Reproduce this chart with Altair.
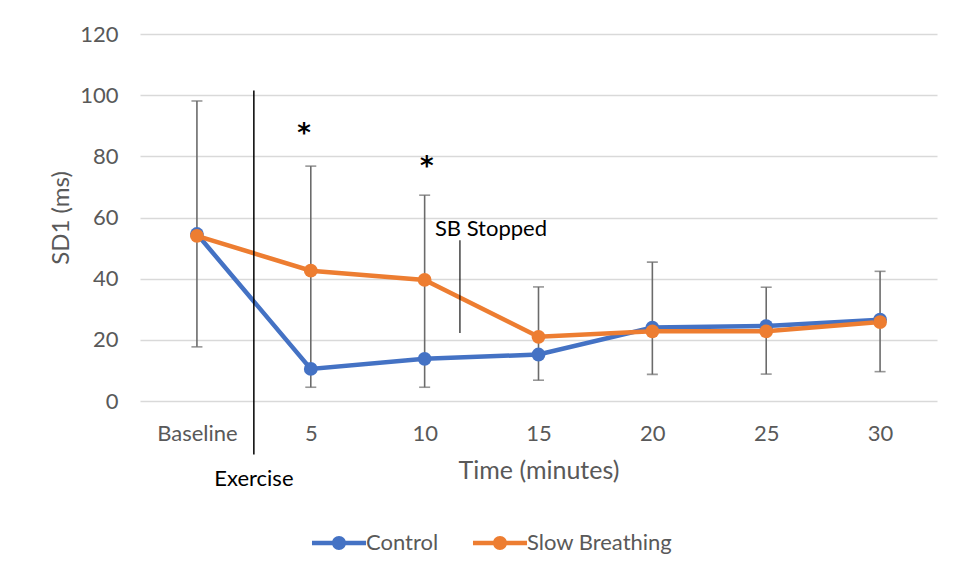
import altair as alt
import pandas as pd

# ---- data ----
time_labels = ["Baseline", "5", "10", "15", "20", "25", "30"]
control = [54.6, 10.5, 13.8, 15.2, 24.0, 24.5, 26.6]
slow_breathing = [54.0, 42.6, 39.6, 21.0, 22.8, 22.8, 25.8]
err_low = [17.7, 4.5, 4.5, 6.8, 8.7, 8.8, 9.6]
err_high = [98.1, 76.8, 67.3, 37.3, 45.4, 37.2, 42.4]

# annotations (data coordinates: x = category index, y = SD1)
exercise_x = [0.5]
exercise_y = [101.5]
exercise_y2 = [-17.5]
exercise_text_y = [-25.5]
sb_line_x = [2.31]
sb_line_y = [52.6]
sb_line_y2 = [22.2]
sb_text_x = [2.09]
sb_text_y = [56.4]
star_x = [0.94, 2.02]
star_y = [87.2, 76.5]

FONT = "Lato"
GRAY = "#595959"

idx = list(range(len(time_labels)))
df = pd.DataFrame({
    "idx": idx * 2,
    "series": ["Control"] * len(idx) + ["Slow Breathing"] * len(idx),
    "value": control + slow_breathing,
})
err = pd.DataFrame({"idx": idx, "low": err_low, "high": err_high})

label_expr = "[" + ",".join(f"'{t}'" for t in time_labels) + "][datum.value]"

xscale = alt.Scale(domain=[-0.5, len(idx) - 0.5], nice=False, zero=False)
yscale = alt.Scale(domain=[0, 120], nice=False)

x_axis = alt.Axis(values=idx, labelExpr=label_expr, title="Time (minutes)",
                  grid=False, domain=False, ticks=False, labelPadding=22, titlePadding=14,
                  titleFontSize=25)
y_axis = alt.Axis(values=[0, 20, 40, 60, 80, 100, 120], title="SD1 (ms)",
                  grid=True, domain=False, ticks=False, labelPadding=22, titlePadding=6,
                  titleFontSize=24)

X = alt.X("idx:Q", scale=xscale, axis=x_axis)

base_err = alt.Chart(err)
err_rule = base_err.mark_rule(color="#6b6b6b", strokeWidth=1.6).encode(
    x=X, y=alt.Y("low:Q", scale=yscale, axis=y_axis), y2="high:Q")
cap_low = base_err.mark_tick(color="#6b6b6b", thickness=1.6, size=11, orient="horizontal").encode(
    x=X, y=alt.Y("low:Q", scale=yscale, axis=y_axis))
cap_high = base_err.mark_tick(color="#6b6b6b", thickness=1.6, size=11, orient="horizontal").encode(
    x=X, y=alt.Y("high:Q", scale=yscale, axis=y_axis))

# line-with-dot legend glyph (unit: circle radius = 1)
legend_path = ("M-3.86,-0.33 H3.86 V0.33 H-3.86 Z "
               "M1,0 A1,1 0 1 1 -1,0 A1,1 0 1 1 1,0 Z")
color = alt.Color("series:N",
                  scale=alt.Scale(domain=["Control", "Slow Breathing"],
                                  range=["#4472C4", "#ED7D31"]),
                  legend=alt.Legend(title=None, orient="none", direction="horizontal",
                                    legendX=168, legendY=498,
                                    symbolType=legend_path, symbolSize=196,
                                    symbolStrokeWidth=0, symbolOffset=20,
                                    labelOffset=16, columnPadding=30,
                                    padding=0))

lines = alt.Chart(df).mark_line(strokeWidth=4.5).encode(
    x=X, y=alt.Y("value:Q", scale=yscale, axis=y_axis), color=color)
points = alt.Chart(df).mark_point(filled=True, size=190, opacity=1).encode(
    x=X, y=alt.Y("value:Q", scale=yscale, axis=y_axis), color=color)

ex_df = pd.DataFrame({"x": exercise_x, "y": exercise_y, "y2": exercise_y2,
                      "ty": exercise_text_y, "t": ["Exercise"]})
ex_line = alt.Chart(ex_df).mark_rule(color="black", strokeWidth=1.5).encode(
    x=alt.X("x:Q", scale=xscale, axis=x_axis), y=alt.Y("y:Q", scale=yscale, axis=y_axis), y2="y2:Q")
ex_text = alt.Chart(ex_df).mark_text(fontSize=22, font=FONT, color="black",
                                     align="center", baseline="middle").encode(
    x=alt.X("x:Q", scale=xscale, axis=x_axis), y=alt.Y("ty:Q", scale=yscale, axis=y_axis), text="t:N")

sb_df = pd.DataFrame({"x": sb_line_x, "y": sb_line_y, "y2": sb_line_y2,
                      "tx": sb_text_x, "ty": sb_text_y, "t": ["SB Stopped"]})
sb_line = alt.Chart(sb_df).mark_rule(color="black", strokeWidth=1.1).encode(
    x=alt.X("x:Q", scale=xscale, axis=x_axis), y=alt.Y("y:Q", scale=yscale, axis=y_axis), y2="y2:Q")
sb_text = alt.Chart(sb_df).mark_text(fontSize=22, font=FONT, color="black",
                                     align="left", baseline="middle").encode(
    x=alt.X("tx:Q", scale=xscale, axis=x_axis), y=alt.Y("ty:Q", scale=yscale, axis=y_axis), text="t:N")

star_df = pd.DataFrame({"x": star_x, "y": star_y, "t": ["*"] * len(star_x)})
stars = alt.Chart(star_df).mark_text(fontSize=26, font="DejaVu Sans", fontWeight="bold",
                                     color="black", align="center", baseline="middle").encode(
    x=alt.X("x:Q", scale=xscale, axis=x_axis), y=alt.Y("y:Q", scale=yscale, axis=y_axis), text="t:N")

chart = alt.layer(err_rule, cap_low, cap_high, lines, points, ex_line, ex_text,
                  sb_line, sb_text, stars).properties(
    width=797, height=367,
    autosize=alt.AutoSizeParams(type="none"),
    padding={"left": 132, "top": 26, "right": 12, "bottom": 170},
).configure_view(stroke=None).configure_axis(
    labelFontSize=22, labelColor=GRAY, titleColor=GRAY,
    labelFont=FONT, titleFont=FONT, titleFontWeight="normal",
    gridColor="#d9d9d9", gridWidth=1.3,
).configure_legend(
    labelFontSize=22, labelColor=GRAY, labelFont=FONT,
)

chart.save("out.html", embed_options={"renderer": "svg", "actions": False})
